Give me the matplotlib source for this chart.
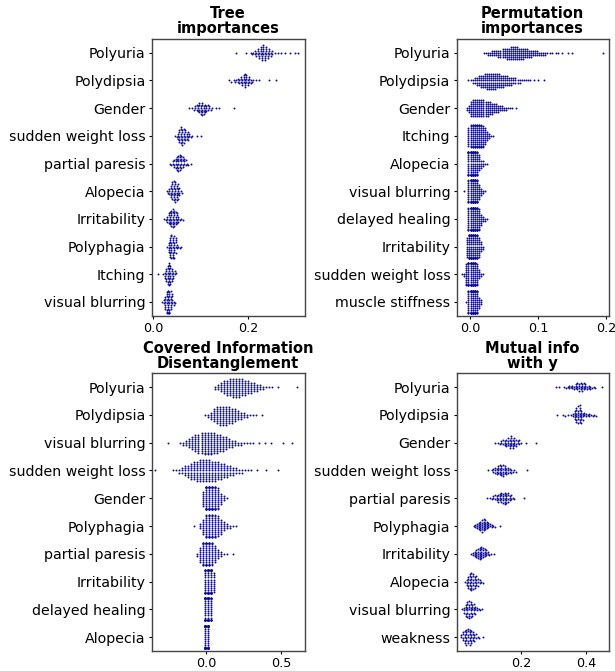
import numpy as np
import pandas as pd
import matplotlib
matplotlib.use("Agg")
import matplotlib.pyplot as plt
import seaborn as sns
import warnings
warnings.filterwarnings("ignore")

# ---------------- data (histograms) ----------------
# each feature: start value, and number of points in consecutive bins of width *_step
tree_title = "Tree\nimportances"
tree_features = ["Polyuria", "Polydipsia", "Gender", "sudden weight loss", "partial paresis",
                 "Alopecia", "Irritability", "Polyphagia", "Itching", "visual blurring"]
tree_step = 0.003
tree_starts = [0.175, 0.160, 0.076, 0.046, 0.035, 0.028, 0.023, 0.029, 0.009, 0.019]
tree_counts = [
    [1,0,0,0,0,0,0,1,0,0,1,1,1,2,2,3,3,4,4,5,4,4,3,3,2,2,0,1,0,1,0,1,0,0,1,0,0,0,1,0,0,1,0,1],
    [1,1,0,1,1,1,2,2,3,3,4,5,4,3,3,2,1,1,0,1,0,1,0,0,0,0,0,0,1,0,0,0,0,1],
    [1,0,1,1,2,2,3,4,4,5,4,3,3,2,2,1,1,0,0,1,0,1,0,0,0,0,0,0,0,0,0,1],
    [1,1,3,5,6,6,5,4,3,3,2,1,1,0,0,1,0,0,1],
    [1,1,2,3,4,5,6,6,5,4,3,2,1,1,0,1],
    [1,1,3,5,6,7,7,6,5,3,1,1],
    [1,1,3,4,5,6,7,6,5,4,3,1,1,1],
    [1,5,7,8,8,7,5,2,1,1,1],
    [1,0,0,0,1,3,5,7,8,7,5,3,2,1],
    [1,2,6,8,9,9,7,4,2,1],
]
tree_ticks = [0.0, 0.2]

perm_title = "Permutation\nimportances"
perm_features = ["Polyuria", "Polydipsia", "Gender", "Itching", "Alopecia", "visual blurring",
                 "delayed healing", "Irritability", "sudden weight loss", "muscle stiffness"]
perm_step = 0.003
perm_starts = [0.021, -0.002, -0.004, -0.002, -0.002, -0.008, -0.002, -0.004, -0.011, -0.005]
perm_counts = [
    [1,1,2,2,3,3,3,4,4,5,5,6,6,7,7,7,7,6,6,6,5,5,4,4,3,3,3,2,2,2,2,1,1,
     1,0,1,1,0,1,0,0,1,0,1,0,0,0,0,0,0,0,0,0,0,0,0,0,0,1],
    [1,1,2,3,4,5,6,6,7,8,8,8,8,8,7,7,6,6,5,5,4,4,3,3,2,2,1,1,1,1,1,0,1,0,1,0,0,1],
    [2,4,8,9,9,9,9,9,9,8,8,7,6,5,5,4,3,3,2,2,1,1,1,0,1],
    [10,13,15,15,15,15,14,12,9,5,3,1,1],
    [18,25,25,22,15,8,4,3,1,1],
    [1,0,14,22,25,22,16,8,4,2,1],
    [14,22,24,22,18,12,6,3,2,1],
    [10,18,22,22,20,16,10,5,2],
    [1,2,12,20,24,24,20,12,5,2,1],
    [1,15,25,28,25,15,6,3],
]
perm_ticks = [0.0, 0.1, 0.2]

cid_title = "Covered Information\nDisentanglement"
cid_features = ["Polyuria", "Polydipsia", "visual blurring", "sudden weight loss", "Gender",
                "Polyphagia", "partial paresis", "Irritability", "delayed healing", "Alopecia"]
cid_step = 0.02
cid_starts = [0.06, -0.01, -0.25, -0.34, -0.02, -0.08, -0.06, -0.01, -0.005, -0.005]
cid_counts = [
    [2,3,5,7,8,9,10,10,10,9,8,7,6,5,4,3,2,1,1,1,0,1,0,0,0,0,0,1],
    [1,2,4,7,9,10,10,10,9,8,7,5,4,3,2,1,1,1,0,1],
    [1,0,0,0,1,2,3,5,7,9,10,11,12,12,12,11,10,9,8,7,5,4,3,2,2,1,1,1,1,0,1,0,1,0,1,0,0,0,1,0,0,1],
    [1,0,0,0,0,0,1,1,2,3,5,6,8,9,10,11,11,11,11,10,10,9,8,7,6,5,4,3,2,2,1,1,1,0,1,0,0,1,0,0,0,1],
    [8,20,22,22,18,12,6,3,1],
    [1,0,3,8,14,16,16,14,11,8,5,3,2,1,1],
    [2,8,16,20,18,14,9,5,3,1,1,0,1],
    [20,35,35,10],
    [35,45,20],
    [55,45],
]
cid_ticks = [0.0, 0.5]

mi_title = "Mutual info\nwith y"
mi_features = ["Polyuria", "Polydipsia", "Gender", "sudden weight loss", "partial paresis",
               "Polyphagia", "Irritability", "Alopecia", "visual blurring", "weakness"]
mi_step = 0.005
mi_starts = [0.308, 0.31, 0.12, 0.10, 0.095, 0.055, 0.048, 0.028, 0.02, 0.017]
mi_counts = [
    [1,0,1,0,0,1,1,1,2,1,2,2,3,3,4,3,4,3,3,2,2,2,1,1,1,0,0,0,1],
    [1,0,0,0,1,1,0,1,0,1,2,5,6,7,7,6,3,2,2,1,2,1,1,1,1],
    [1,0,1,1,2,2,3,3,4,4,5,4,4,3,2,2,1,0,0,1,0,0,0,0,0,1],
    [1,0,1,2,3,3,4,4,5,5,4,3,3,2,2,1,1,1,0,0,0,0,0,0,1],
    [1,0,1,1,2,2,3,3,4,4,5,5,5,4,3,2,1,1,0,0,0,0,0,1],
    [1,2,3,4,5,6,6,5,4,3,2,2,1,1,0,0,1],
    [1,2,3,4,5,6,6,5,4,3,2,1,1,0,1],
    [1,3,5,6,7,6,5,4,3,2,1,1],
    [1,3,5,6,7,6,5,4,3,2,1,1,1],
    [2,4,5,6,6,6,5,4,3,2,1,1,0,1],
]
mi_ticks = [0.2, 0.4]

# ---------------- styling / layout ----------------
DOT = "#0c0c98"
SPINE = "#444444"
fig = plt.figure(figsize=(6.15, 6.71), dpi=100)

panels = [
    (tree_title, tree_features, tree_step, tree_starts, tree_counts, tree_ticks,
     (-0.0034, 0.319), [0.2467, 0.5295, 0.2488, 0.4124]),
    (perm_title, perm_features, perm_step, perm_starts, perm_counts, perm_ticks,
     (-0.0196, 0.2037), [0.7423, 0.5295, 0.2472, 0.4124]),
    (cid_title, cid_features, cid_step, cid_starts, cid_counts, cid_ticks,
     (-0.36, 0.654), [0.2467, 0.0298, 0.2488, 0.4139]),
    (mi_title, mi_features, mi_step, mi_starts, mi_counts, mi_ticks,
     (0.002, 0.469), [0.7423, 0.0298, 0.2472, 0.4139]),
]

for title, feats, step, starts, counts, ticks, xlim, rect in panels:
    ax = fig.add_axes(rect)
    frames = []
    for f, s, c in zip(feats, starts, counts):
        c = np.asarray(c)
        bins = s + step * np.arange(len(c))
        frames.append(pd.DataFrame({"feature": f, "value": np.repeat(bins, c)}))
    df = pd.concat(frames, ignore_index=True)
    ax.set_xlim(*xlim)
    sns.swarmplot(data=df, x="value", y="feature", order=feats, orient="h",
                  color=DOT, size=1.4, linewidth=0, ax=ax)
    ax.set_xlim(*xlim)
    ax.set_xticks(ticks)
    ax.set_xticklabels([f"{t:.1f}" for t in ticks])
    ax.set_xlabel("")
    ax.set_ylabel("")
    ax.tick_params(axis="y", labelsize=10.2, length=2.5, width=0.8, pad=2, colors="black")
    ax.tick_params(axis="x", labelsize=9.2, length=2.5, width=0.8, pad=2)
    for sp in ax.spines.values():
        sp.set_color(SPINE)
        sp.set_linewidth(1.0)
    ax.set_title(title, fontsize=10.5, fontweight="bold", pad=4, linespacing=1.0)

fig.savefig("out.png", dpi=100)
